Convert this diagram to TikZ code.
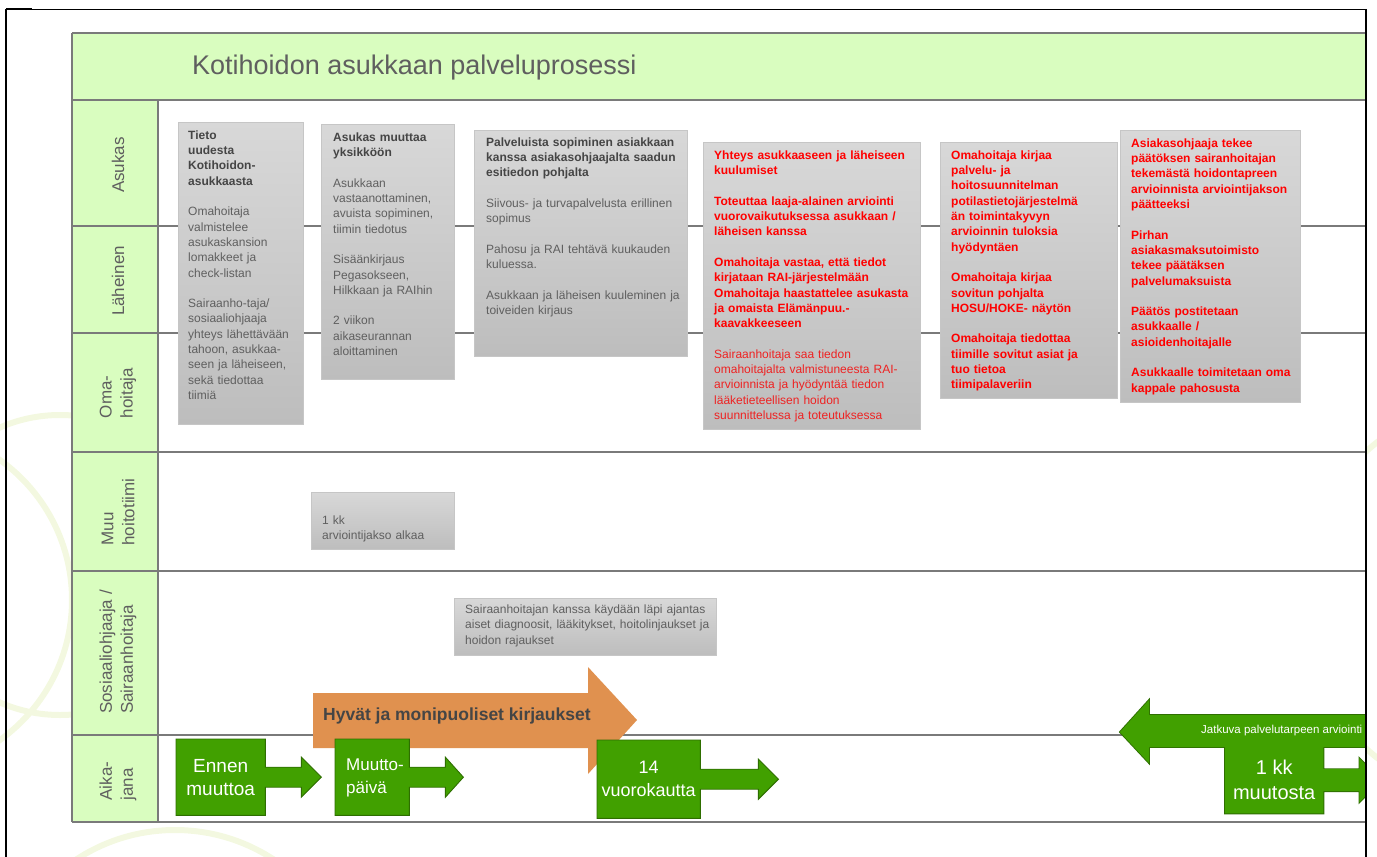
\documentclass[tikz,border=0pt]{standalone}
\usepackage{fontspec}
\setmainfont{Liberation Sans}
\usetikzlibrary{calc}
\definecolor{bandgreen}{HTML}{D9FDBF}
\definecolor{linegray}{HTML}{7A7A7A}
\definecolor{txtgray}{HTML}{5F5F5F}
\definecolor{boldgray}{HTML}{454545}
\definecolor{boxtop}{HTML}{D8D8D8}
\definecolor{boxbot}{HTML}{BDBDBD}
\definecolor{boxedge}{HTML}{C6C6C6}
\definecolor{tlgreen}{HTML}{41A000}
\definecolor{tledge}{HTML}{2E6E00}
\definecolor{orangearrow}{HTML}{E0914F}
\definecolor{arcgreen}{HTML}{F3F8E0}
\definecolor{redtxt}{HTML}{FF0000}
\definecolor{redreg}{HTML}{EE2222}
\newcommand\gap{\\[15.3pt]}
\newcommand\hd[1]{{\color{boldgray}\bfseries #1}}
\begin{document}
\begin{tikzpicture}[x=1pt,y=-1pt,
  tline/.style={draw=linegray, line width=1.4pt},
  gbox/.style={draw=boxedge, top color=boxtop, bottom color=boxbot, line width=0.8pt, inner sep=0pt, anchor=north west},
  btxt/.style={anchor=north west, inner sep=0pt, align=left, text=txtgray, font=\fontsize{12}{15.3}\selectfont},
  rtxt/.style={btxt, text=redtxt, font=\fontsize{12}{15.3}\selectfont\bfseries},
  lane/.style={rotate=90, align=left, text=txtgray, inner sep=0pt, font=\fontsize{17}{21}\selectfont},
  tlbox/.style={anchor=north west, inner sep=0pt, align=center, text=white, font=\fontsize{19}{23}\selectfont},
  tlshape/.style={fill=tlgreen, draw=tledge, line width=0.9pt, line join=miter},
  arcs/.style={draw=arcgreen, line width=6pt}
]
\useasboundingbox (0,0) rectangle (1377,857);

% background decorative arcs
\draw[arcs] (-100,600) circle (172);
\draw[arcs] (60,565) circle (150);
\draw[arcs] (175,1010) circle (180);
\draw[arcs] (1500,600) circle (200);

\begin{scope}
\clip (0,0) rectangle (1366,857);
% table
\fill[bandgreen] (72,33) rectangle (1380,100);
\fill[bandgreen] (72,100) rectangle (158,822);
\fill[white] (158,100) rectangle (1380,822);
\foreach \yy in {33,100,226,333,452,571,735,822}{
  \draw[tline] (72,\yy) -- (1380,\yy);
}
\draw[tline] (72,33) -- (72,822);
\draw[tline] (158,100) -- (158,822);

\node[anchor=west, inner sep=0pt, text=txtgray, font=\fontsize{27}{32}\selectfont] (title) at (192,68) {Kotihoidon asukkaan palveluprosessi};

% lane labels
\node[lane] (l1) at (118,165) {Asukas};
\node[lane] (l2) at (118,281) {Läheinen};
\node[lane] (l3) at (118,393) {Oma-\\hoitaja};
\node[lane] (l4) at (118,512) {Muu\\hoitotiimi};
\node[lane] (l5) at (118,652) {Sosiaaliohjaaja /\\Sairaanhoitaja};
\node[lane] (l6) at (118,781) {Aika-\\jana};

% gray boxes
\node[gbox, minimum width=125, minimum height=302] (b1) at (178,122) {};
\node[btxt, text width=112] (t1) at (188,130.5) {\hd{Tieto\\uudesta\\Kotihoidon-\\asukkaasta}\gap
Omahoitaja\\valmistelee\\asukaskansion\\lomakkeet ja\\check-listan\gap
Sairaanho-taja/\\sosiaaliohjaaja\\yhteys lähettävään\\tahoon, asukkaa-\\seen ja läheiseen,\\sekä tiedottaa\\tiimiä};

\node[gbox, minimum width=133, minimum height=255] (b2) at (321,124) {};
\node[btxt, text width=120] (t2) at (333,132.5) {\hd{Asukas muuttaa\\yksikköön}\gap
Asukkaan\\vastaanottaminen,\\avuista sopiminen,\\tiimin tiedotus\gap
Sisäänkirjaus\\Pegasokseen,\\Hilkkaan ja RAIhin\gap
2 viikon\\aikaseurannan\\aloittaminen};

\node[gbox, minimum width=213, minimum height=226] (b3) at (474,130) {};
\node[btxt, text width=200] (t3) at (486,137.5) {\hd{Palveluista sopiminen asiakkaan\\kanssa asiakasohjaajalta saadun\\esitiedon pohjalta}\gap
Siivous- ja turvapalvelusta erillinen\\sopimus\gap
Pahosu ja RAI tehtävä kuukauden\\kuluessa.\gap
Asukkaan ja läheisen kuuleminen ja\\toiveiden kirjaus};

\node[gbox, minimum width=217, minimum height=287] (b4) at (703,142) {};
\node[rtxt, text width=205] (t4) at (714,150.5) {Yhteys asukkaaseen ja läheiseen\\kuulumiset\gap
Toteuttaa laaja-alainen arviointi\\vuorovaikutuksessa asukkaan /\\läheisen kanssa\gap
Omahoitaja vastaa, että tiedot\\kirjataan RAI-järjestelmään\\Omahoitaja haastattelee asukasta\\ja omaista Elämänpuu.-\\kaavakkeeseen\gap
{\mdseries\color{redreg}Sairaanhoitaja saa tiedon\\omahoitajalta valmistuneesta RAI-\\arvioinnista ja hyödyntää tiedon\\lääketieteellisen hoidon\\suunnittelussa ja toteutuksessa}};

\node[gbox, minimum width=177, minimum height=256] (b5) at (940,142) {};
\node[rtxt, text width=165] (t5) at (951,150.5) {Omahoitaja kirjaa\\palvelu- ja\\hoitosuunnitelman\\potilastietojärjestelmä\\än toimintakyvyn\\arvioinnin tuloksia\\hyödyntäen\gap
Omahoitaja kirjaa\\sovitun pohjalta\\HOSU/HOKE- näytön\gap
Omahoitaja tiedottaa\\tiimille sovitut asiat ja\\tuo tietoa\\tiimipalaveriin};

\node[gbox, minimum width=180, minimum height=272] (b6) at (1120,130) {};
\node[rtxt, text width=168] (t6) at (1131,138.5) {Asiakasohjaaja tekee\\päätöksen sairanhoitajan\\tekemästä hoidontapreen\\arvioinnista arviointijakson\\päätteeksi\gap
Pirhan\\asiakasmaksutoimisto\\tekee päätäksen\\palvelumaksuista\gap
Päätös postitetaan\\asukkaalle /\\asioidenhoitajalle\gap
Asukkaalle toimitetaan oma\\kappale pahosusta};

\node[gbox, minimum width=143, minimum height=57] (b7) at (311,492) {};
\node[btxt, text width=130] (t7) at (322,515.5) {1 kk\\arviointijakso alkaa};

\node[gbox, minimum width=262, minimum height=57] (b8) at (454,598) {};
\node[btxt, text width=250] (t8) at (465,604.5) {Sairaanhoitajan kanssa käydään läpi ajantas\\aiset diagnoosit, lääkitykset, hoitolinjaukset ja\\hoidon rajaukset};

% orange arrow
\fill[orangearrow] (313,693) -- (588,693) -- (588,667) -- (637,720) -- (588,774) -- (588,748) -- (313,748) -- cycle;
\node[anchor=west, inner sep=0pt, text=boldgray, font=\fontsize{17.5}{20}\selectfont\bfseries] (orangetxt) at (323,716) {Hyvät ja monipuoliset kirjaukset};

% timeline boxes
\node[tlbox, minimum width=89, minimum height=76] (e1) at (176,739) {};
\node[tlbox, minimum width=74, minimum height=76] (e2) at (335,739) {};
\node[tlbox, minimum width=103, minimum height=78] (e3) at (597,740) {};
\node[tlbox, minimum width=98, minimum height=66] (e4) at (1225,747) {};

\newcommand\tlarrow[3]{%
  \draw[tlshape] (#1.north west) -- (#1.north east) -- ($(#1.east)+(0,-10)$) -- ($(#1.east)+(#2,-10)$)
   -- ($(#1.east)+(#2,-20)$) -- ($(#1.east)+(#2+#3,0)$) -- ($(#1.east)+(#2,20)$) -- ($(#1.east)+(#2,10)$)
   -- ($(#1.east)+(0,10)$) -- (#1.south east) -- (#1.south west) -- cycle;}
\tlarrow{e1}{36}{20}
\tlarrow{e2}{36}{18}
\tlarrow{e3}{58}{20}
\node[tlbox, minimum width=89, minimum height=76] (e1t) at (e1.north west) {Ennen\\muuttoa};
\node[anchor=west, inner sep=0pt, align=left, text=white, font=\fontsize{17}{23}\selectfont] (e2t) at (346,778) {Muutto-\\päivä};
\node[tlbox, minimum width=103, minimum height=78, font=\fontsize{18}{23}\selectfont] (e3t) at (e3.north west) {14\\vuorokautta};

% big left arrow and 1 kk box (merged outline)
\draw[tledge, line width=1.8pt, line join=miter] (1120,732) -- (1149,700) -- (1149,715) -- (1390,715) -- (1390,747) -- (1149,747) -- (1149,763) -- cycle;
\draw[tledge, line width=1.8pt] (e4.north west) -- (e4.north east) -- ($(e4.east)+(0,-11)$) -- ($(e4.east)+(36,-11)$) -- ($(e4.east)+(36,-22)$) -- ($(e4.east)+(58,0)$) -- ($(e4.east)+(36,22)$) -- ($(e4.east)+(36,11)$) -- ($(e4.east)+(0,11)$) -- (e4.south east) -- (e4.south west) -- cycle;
\fill[tlgreen] (1120,732) -- (1149,700) -- (1149,715) -- (1390,715) -- (1390,747) -- (1149,747) -- (1149,763) -- cycle;
\fill[tlgreen] (e4.north west) -- (e4.north east) -- ($(e4.east)+(0,-11)$) -- ($(e4.east)+(36,-11)$) -- ($(e4.east)+(36,-22)$) -- ($(e4.east)+(58,0)$) -- ($(e4.east)+(36,22)$) -- ($(e4.east)+(36,11)$) -- ($(e4.east)+(0,11)$) -- (e4.south east) -- (e4.south west) -- cycle;
\node[tlbox, minimum width=98, minimum height=66, font=\fontsize{20}{25}\selectfont] (e4t) at (e4.north west) {1 kk\\muutosta};
\node[anchor=west, inner sep=0pt, text=white, font=\fontsize{11.5}{14}\selectfont] (jatkuva) at (1201,731) {Jatkuva palvelutarpeen arviointi};
\end{scope}

% frame
\draw[black, line width=1pt] (6,9) -- (1366,9);
\draw[black, line width=2.2pt] (6,9) -- (32,9);
\draw[black, line width=2pt] (6,9) -- (6,857);
\draw[black, line width=1.5pt] (1366,9) -- (1366,857);
\end{tikzpicture}
\end{document}
